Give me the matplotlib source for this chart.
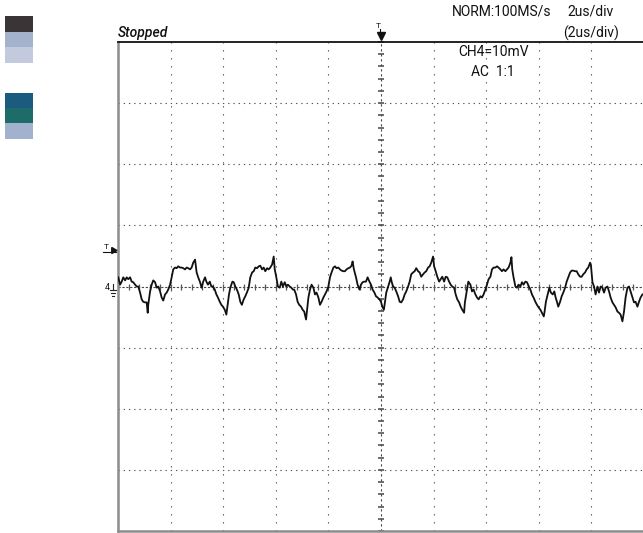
import numpy as np
import matplotlib
matplotlib.use("Agg")
import matplotlib.pyplot as plt
from matplotlib.patches import Rectangle

# ---- data: CH4 trace, time in microseconds, voltage in mV ----
t_us = [
    -9.99, -9.92, -9.86, -9.80, -9.73, -9.67, -9.61, -9.54, -9.48, -9.42, -9.35, -9.29, -9.23, -9.16,
    -9.10, -9.04, -8.97, -8.91, -8.87, -8.85, -8.78, -8.72, -8.66, -8.59, -8.53, -8.47, -8.40, -8.34,
    -8.28, -8.21, -8.15, -8.09, -8.02, -7.96, -7.90, -7.83, -7.77, -7.71, -7.64, -7.58, -7.52, -7.45,
    -7.39, -7.33, -7.26, -7.20, -7.14, -7.07, -7.01, -6.95, -6.88, -6.82, -6.76, -6.69,
    -6.64, -6.58, -6.51, -6.45, -6.39, -6.32, -6.26, -6.20, -6.13, -6.07, -6.01, -5.94, -5.88, -5.84,
    -5.78, -5.73, -5.65, -5.60, -5.54, -5.48, -5.41, -5.35, -5.29, -5.22, -5.16, -5.10, -5.03, -4.97,
    -4.90, -4.84, -4.78, -4.71, -4.65, -4.59, -4.52, -4.46, -4.40, -4.33, -4.27, -4.21, -4.14, -4.08,
    -4.04, -3.98, -3.92, -3.85, -3.79, -3.73, -3.66, -3.60, -3.54, -3.47, -3.41, -3.35,
    -3.30, -3.23, -3.17, -3.11, -3.04, -2.98, -2.92, -2.85, -2.81, -2.76, -2.70, -2.64, -2.57, -2.51,
    -2.45, -2.38, -2.32, -2.26, -2.19, -2.13, -2.07, -2.00, -1.94, -1.88, -1.81, -1.75, -1.69, -1.62,
    -1.56, -1.50, -1.43, -1.37, -1.31, -1.24, -1.18, -1.12, -1.08, -1.03, -0.95, -0.89, -0.82, -0.76,
    -0.70, -0.63, -0.57, -0.51, -0.44, -0.38, -0.32, -0.25, -0.19, -0.13, -0.06, 0.00,
    0.05, 0.11, 0.15, 0.20, 0.27, 0.33, 0.37, 0.41, 0.46, 0.52, 0.58, 0.65, 0.71, 0.77, 0.84, 0.90,
    0.96, 1.03, 1.09, 1.15, 1.22, 1.28, 1.34, 1.41, 1.47, 1.53, 1.60, 1.66, 1.72, 1.79, 1.85, 1.91,
    1.98, 2.02, 2.08, 2.14, 2.21, 2.27, 2.33, 2.40, 2.46, 2.52, 2.59, 2.65, 2.71, 2.78, 2.84, 2.90,
    2.97, 3.03, 3.09, 3.16, 3.19, 3.26, 3.32,
    3.40, 3.46, 3.52, 3.59, 3.65, 3.71, 3.78, 3.84, 3.90, 3.97, 4.03, 4.09, 4.16, 4.22, 4.28, 4.35,
    4.41, 4.47, 4.54, 4.60, 4.66, 4.73, 4.79, 4.85, 4.92, 4.96, 4.99, 5.04, 5.11, 5.17, 5.23, 5.30,
    5.36, 5.42, 5.49, 5.55, 5.62, 5.68, 5.74, 5.80, 5.87, 5.93, 5.99, 6.06, 6.12, 6.19, 6.22, 6.27,
    6.34, 6.40, 6.46, 6.53, 6.59, 6.64, 6.69,
    6.74, 6.81, 6.87, 6.93, 7.00, 7.06, 7.12, 7.19, 7.25, 7.31, 7.38, 7.44, 7.50, 7.57, 7.63, 7.69,
    7.76, 7.82, 7.88, 7.95, 7.98, 8.04, 8.10, 8.16, 8.23, 8.29, 8.35, 8.42, 8.48, 8.54, 8.61, 8.67,
    8.73, 8.80, 8.86, 8.92, 8.99, 9.05, 9.11, 9.18, 9.24, 9.30, 9.37, 9.43, 9.49, 9.56, 9.62, 9.68,
    9.75, 9.81, 9.87, 9.94,
]
v_mV = [
    1.5, 0.3, 0.8, 1.5, 1.0, 1.5, 1.2, 1.5, 0.8, 0.7, 0.3, 0.0, 0.0, -1.0,
    -2.1, -2.5, -2.6, -2.6, -4.3, -3.0, -0.8, 0.3, 1.0, 0.7, -0.2, 0.0, -0.8, -1.8,
    -2.3, -1.3, -1.0, -0.5, 0.3, 1.5, 2.8, 3.1, 3.0, 3.3, 3.1, 3.1, 3.0, 2.8,
    3.1, 3.0, 2.8, 3.1, 3.9, 4.4, 2.3, 1.5, 0.7, -0.2, 0.8, 1.5,
    0.8, 0.3, 0.8, 0.0, 0.0, -0.5, -1.3, -1.8, -2.5, -3.0, -3.3, -3.8, -4.6, -3.3,
    -1.3, -0.2, 0.8, 0.7, 0.0, -0.5, -1.3, -2.5, -3.0, -2.1, -1.6, -1.0, -0.2, 1.5,
    2.3, 2.5, 3.1, 3.0, 3.3, 3.4, 2.8, 3.1, 2.5, 3.0, 2.8, 3.1, 3.6, 4.9,
    2.8, 1.5, 0.0, -0.2, 0.8, 0.0, 0.7, 0.0, 0.3, 0.0, -0.2, -0.5,
    -0.5, -1.3, -2.5, -3.0, -3.3, -3.8, -4.1, -5.4, -3.8, -1.8, -0.5, 0.3, -0.2, -1.3,
    -1.0, -1.8, -3.0, -2.5, -1.8, -1.3, -0.8, 0.0, 1.5, 2.3, 3.1, 3.3, 3.0, 3.1,
    2.8, 2.6, 2.5, 2.5, 2.8, 3.0, 3.1, 3.4, 4.1, 2.8, 1.5, 0.3, -0.5, 0.3,
    0.7, 0.8, 0.8, 1.5, 0.8, 0.3, -0.5, -1.0, -1.6, -1.8, -2.1, -2.5,
    -3.3, -3.8, -2.6, -1.0, 0.0, 0.8, 1.5, 0.7, 0.0, -0.2, -0.8, -1.6, -2.5, -2.6, -2.1, -1.3,
    -0.8, 0.0, 0.8, 2.0, 2.3, 2.5, 3.0, 2.5, 2.3, 1.6, 2.0, 2.3, 2.5, 3.1, 3.3, 3.9,
    4.9, 3.3, 2.5, 1.6, 0.8, 1.2, 1.6, 0.8, 1.6, 1.5, 0.8, 0.3, 0.0, -0.2, -1.3, -2.1,
    -2.6, -3.3, -3.8, -4.3, -2.6, -0.8, 0.8,
    0.3, -0.8, -0.5, -1.3, -1.8, -2.1, -1.6, -1.8, -1.3, -0.5, 0.3, 1.2, 1.6, 2.8, 3.1, 3.1,
    3.3, 3.1, 2.8, 2.5, 2.8, 2.5, 2.8, 3.1, 3.9, 4.8, 2.8, 1.5, 0.0, -0.2, 0.3, 0.0,
    0.7, 0.3, 0.8, 0.7, 0.0, -0.5, -1.3, -1.8, -2.5, -3.0, -3.4, -3.8, -4.3, -4.9, -4.1, -2.5,
    -1.3, -0.2, -1.0, -1.3, -0.8, -1.8, -2.5,
    -3.3, -2.5, -1.6, -1.0, -0.2, 0.8, 1.5, 2.3, 2.6, 2.6, 2.5, 2.5, 2.0, 1.6, 1.6, 2.0,
    2.3, 2.8, 3.1, 3.9, 3.6, 0.7, 0.0, -1.3, 0.0, -1.0, 0.0, -0.2, -1.0, -0.2, 0.0, -0.8,
    -1.8, -2.6, -3.0, -3.4, -4.1, -4.3, -4.6, -5.7, -4.1, -1.8, -0.2, 0.0, -0.8, -1.8, -2.6, -2.5,
    -3.3, -2.5, -1.8, -1.3,
]

time_per_div_us = 2.0
volts_per_div_mV = 10.0
n_hdiv = 10
n_vdiv = 8
trigger_level_mV = 6.0

W, H = 643, 533
fig = plt.figure(figsize=(W / 100, H / 100), dpi=100)
fig.patch.set_facecolor("white")

def fx(px):
    return px / W

def fy(py):
    return 1 - py / H

ax_left, ax_top, ax_bottom, ax_w = 118, 42, 531, 526
ax = fig.add_axes([fx(ax_left), fy(ax_bottom), ax_w / W, (ax_bottom - ax_top) / H])

xmax = time_per_div_us * n_hdiv / 2
ymax = volts_per_div_mV * n_vdiv / 2
ax.set_xlim(-xmax, xmax)
ax.set_ylim(-ymax, ymax)
ax.set_xticks([])
ax.set_yticks([])

for side in ["left", "bottom"]:
    ax.spines[side].set_color("#8c8c8c")
    ax.spines[side].set_linewidth(1.8)
ax.spines["top"].set_color("#111111")
ax.spines["top"].set_linewidth(1.3)
ax.spines["right"].set_visible(False)

grid_col = "#555555"
for i in range(-n_hdiv // 2 + 1, n_hdiv // 2):
    if i == 0:
        continue
    ax.axvline(i * time_per_div_us, color=grid_col, lw=0.8, ls=(0, (1.2, 6)), zorder=1)
for j in range(-n_vdiv // 2 + 1, n_vdiv // 2):
    if j == 0:
        continue
    ax.axhline(j * volts_per_div_mV, color=grid_col, lw=0.8, ls=(0, (1.2, 3.5)), zorder=1)

# center axes
ax.axvline(0, color="#444444", lw=0.8, ls=(0, (2, 2.5)), zorder=1)
ax.axhline(0, color="#444444", lw=0.8, ls=(0, (2, 1.5)), zorder=1)
ytk = np.arange(-ymax, ymax + 0.01, volts_per_div_mV / 5)
ax.plot(np.zeros_like(ytk), ytk, ls="none", marker="_", ms=4, mew=1.2, color="#555555",
        zorder=2, clip_on=False)
xtk = np.arange(-xmax, xmax + 0.01, time_per_div_us / 5)
ax.plot(xtk, np.zeros_like(xtk), ls="none", marker="|", ms=4, mew=0.9, color="#555555",
        zorder=2)

# trace
ax.plot(t_us, v_mV, color="#111111", lw=1.3, zorder=5)

# ---- texts ----
font = ["Roboto", "DejaVu Sans"]
kw = dict(fontsize=10, family=font, color="#111111", va="center")
fig.text(fx(118), fy(33), "Stopped", style="italic", fontweight="medium", ha="left", **kw)
fig.text(fx(452), fy(12), "NORM:100MS/s", ha="left", **kw)
fig.text(fx(591), fy(12), "2us/div", ha="center", **kw)
fig.text(fx(591), fy(33), "(2us/div)", ha="center", **kw)
fig.text(fx(494), fy(52), "CH4=10mV", ha="center", **kw)
fig.text(fx(471), fy(72), "AC  1:1", ha="left", **kw)

# trigger position marker (top)
fig.text(fx(378), fy(26), "T", fontsize=6, family=font, ha="center", va="center", color="#111")
fig.add_artist(plt.Line2D([fx(381)], [fy(36)], marker="v", ms=6, color="#111111"))
fig.add_artist(plt.Line2D([fx(380), fx(380)], [fy(29), fy(36)], color="#111111", lw=0.8))
# trigger level marker (left)
fig.text(fx(106), fy(247), "T", fontsize=6, family=font, ha="center", va="center", color="#111")
fig.add_artist(plt.Line2D([fx(113)], [fy(250)], marker=(3, 0, 30), ms=5, color="#111111"))
fig.add_artist(plt.Line2D([fx(103), fx(116)], [fy(252), fy(252)], color="#111111", lw=0.8))
# channel ground marker
fig.text(fx(107), fy(287), "4", fontsize=6.5, family=font, ha="center", va="center", color="#111")
for (x0, x1, yy) in [(110, 116, 290), (111, 115, 293), (112, 114, 296)]:
    fig.add_artist(plt.Line2D([fx(x0), fx(x1)], [fy(yy), fy(yy)], color="#222", lw=0.8))
fig.add_artist(plt.Line2D([fx(113), fx(113)], [fy(284), fy(290)], color="#222", lw=0.8))

# left colour swatches
swatches = [
    (16, 32, "#3b3437"), (32, 47, "#a4b2cc"), (47, 63, "#c3cadd"),
    (93, 108, "#1c5b80"), (108, 123, "#1d6c6a"), (123, 139, "#a2b2cc"),
]
for (y0, y1, c) in swatches:
    fig.add_artist(Rectangle((fx(5), fy(y1)), (33 - 5) / W, (y1 - y0) / H,
                             facecolor=c, edgecolor="none", transform=fig.transFigure))

fig.savefig("out.png", dpi=100, facecolor="white")
